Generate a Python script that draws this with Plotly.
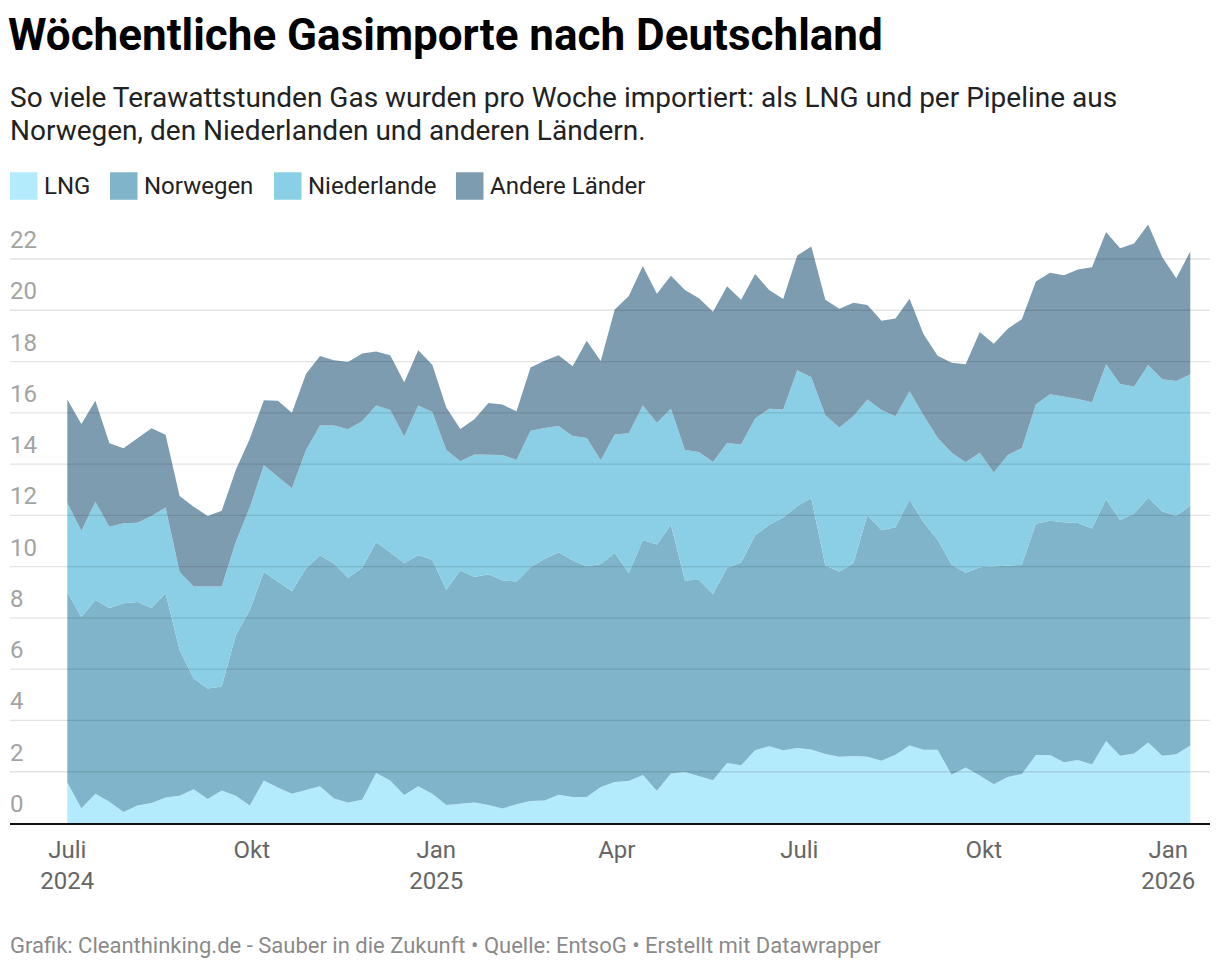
import pandas as pd
import plotly.graph_objects as go

# ---- data (TWh per week) ----
weeks = pd.date_range("2024-07-01", periods=81, freq="7D")

lng = [1.58, 0.58, 1.14, 0.83, 0.43, 0.68, 0.78, 0.99, 1.06, 1.32,
       0.94, 1.27, 1.06, 0.68, 1.66, 1.38, 1.14, 1.28, 1.43, 0.96,
       0.80, 0.91, 1.95, 1.66, 1.09, 1.43, 1.14, 0.70, 0.75, 0.80,
       0.70, 0.57, 0.73, 0.86, 0.88, 1.10, 1.01, 1.01, 1.40, 1.60,
       1.64, 1.87, 1.26, 1.93, 1.99, 1.82, 1.67, 2.34, 2.25, 2.84,
       2.99, 2.84, 2.93, 2.87, 2.69, 2.58, 2.61, 2.58, 2.43, 2.66,
       3.02, 2.86, 2.86, 1.88, 2.16, 1.85, 1.51, 1.79, 1.91, 2.65,
       2.65, 2.37, 2.46, 2.28, 3.20, 2.62, 2.71, 3.14, 2.62, 2.68,
       3.02]

norwegen = [7.43, 7.45, 7.56, 7.56, 8.14, 7.94, 7.61, 7.97, 5.69, 4.32,
            4.31, 4.05, 6.26, 7.63, 8.13, 8.05, 7.90, 8.65, 9.01, 9.16,
            8.77, 9.05, 9.00, 8.90, 9.05, 9.01, 9.13, 8.40, 9.11, 8.80,
            9.00, 8.90, 8.69, 9.13, 9.42, 9.46, 9.24, 9.00, 8.70, 8.93,
            8.11, 9.17, 9.60, 9.70, 7.47, 7.67, 7.26, 7.62, 7.91, 8.38,
            8.64, 9.08, 9.43, 9.81, 7.35, 7.23, 7.52, 9.43, 8.99, 8.88,
            9.59, 8.87, 8.19, 8.19, 7.60, 8.13, 8.50, 8.25, 8.16, 9.02,
            9.14, 9.36, 9.24, 9.21, 9.43, 9.20, 9.36, 9.55, 9.54, 9.30,
            9.36]

niederlande = [3.48, 3.37, 3.82, 3.17, 3.12, 3.09, 3.58, 3.35, 3.04, 3.58,
               3.97, 3.90, 3.64, 4.00, 4.16, 4.08, 4.02, 4.61, 5.06, 5.38,
               5.79, 5.71, 5.33, 5.55, 4.94, 5.84, 5.76, 5.45, 4.25, 4.77,
               4.67, 4.88, 4.74, 5.31, 5.11, 4.93, 4.85, 5.01, 4.05, 4.62,
               5.45, 5.24, 4.75, 4.53, 5.09, 4.98, 5.15, 4.86, 4.60, 4.56,
               4.53, 4.21, 5.30, 4.71, 5.86, 5.62, 5.74, 4.51, 4.69, 4.33,
               4.23, 4.16, 3.98, 4.37, 4.31, 4.46, 3.66, 4.31, 4.56, 4.65,
               4.93, 4.90, 4.84, 4.92, 5.26, 5.30, 4.96, 5.17, 5.15, 5.26,
               5.11]

andere = [4.03, 4.16, 3.95, 3.25, 2.93, 3.30, 3.43, 2.83, 2.96, 3.12,
          2.75, 2.96, 2.81, 2.68, 2.54, 2.96, 2.94, 2.97, 2.72, 2.55,
          2.62, 2.64, 2.11, 2.13, 2.11, 2.16, 1.84, 1.66, 1.26, 1.38,
          2.01, 1.97, 1.90, 2.47, 2.62, 2.75, 2.72, 3.79, 3.87, 4.88,
          5.36, 5.45, 5.03, 5.19, 6.24, 6.00, 5.86, 6.12, 5.65, 5.63,
          4.63, 4.31, 4.48, 5.10, 4.51, 4.63, 4.42, 3.68, 3.48, 3.81,
          3.61, 3.17, 3.20, 3.51, 3.82, 4.71, 5.02, 4.93, 5.02, 4.80,
          4.74, 4.74, 5.05, 5.27, 5.16, 5.30, 5.57, 5.48, 4.77, 4.01,
          4.80]

series_names = ["LNG", "Norwegen", "Niederlande", "Andere Länder"]
series_colors = ["#b3eafc", "#7fb4ca", "#8acfe6", "#7e9cb0"]

y_ticks = [0, 2, 4, 6, 8, 10, 12, 14, 16, 18, 20, 22]
x_tickvals = ["2024-07-01", "2024-10-01", "2025-01-01", "2025-04-01",
              "2025-07-01", "2025-10-01", "2026-01-01"]
x_ticktext = ["Juli<br>2024", "Okt", "Jan<br>2025", "Apr",
              "Juli", "Okt", "Jan<br>2026"]

# ---- figure geometry (pixels) ----
W, H = 1220, 970
ML, MR = 10, 10
plot_top, plot_bottom = 213, 823.3
plot_h = plot_bottom - plot_top
plot_w = W - ML - MR
FONT = "Roboto"


def py(pixel_y):
    return (plot_bottom - pixel_y) / plot_h


def px(pixel_x):
    return (pixel_x - ML) / plot_w


fig = go.Figure()
for name, vals, col in zip(series_names, [lng, norwegen, niederlande, andere], series_colors):
    fig.add_trace(go.Scatter(
        x=weeks, y=vals, name=name, mode="lines",
        stackgroup="one", line=dict(width=0, color=col),
        fillcolor=col, showlegend=False,
        hovertemplate="%{x|%d.%m.%Y}: %{y:.1f} TWh<extra>" + name + "</extra>",
    ))

# gridlines drawn above the areas (semi-transparent) and y labels sitting above them
for v in y_ticks:
    if v != 0:
        fig.add_shape(type="line", xref="paper", yref="y", x0=0, x1=1, y0=v, y1=v,
                      line=dict(color="rgba(0,0,0,0.11)", width=1.3), layer="above")
    fig.add_annotation(text=str(v), xref="paper", yref="y", x=px(8), y=v,
                       xanchor="left", yanchor="middle", yshift=19, showarrow=False,
                       font=dict(size=24, color="#a3a3a3", family=FONT))

# custom legend: square swatch + label
legend_x = [10, 110, 274, 456]
sw, legend_cy = 27.5, 186
for name, col, lx in zip(series_names, series_colors, legend_x):
    fig.add_shape(type="rect", xref="paper", yref="paper",
                  x0=px(lx), x1=px(lx + sw), y0=py(legend_cy + sw / 2), y1=py(legend_cy - sw / 2),
                  fillcolor=col, line=dict(width=0), layer="above")
    fig.add_annotation(text=name, xref="paper", yref="paper",
                       x=px(lx + sw + 4), y=py(legend_cy), xanchor="left", yanchor="middle",
                       showarrow=False, font=dict(size=24, color="#222", family=FONT))

fig.update_layout(
    width=W, height=H,
    margin=dict(l=ML, r=MR, t=plot_top, b=H - plot_bottom, pad=0, autoexpand=False),
    paper_bgcolor="white", plot_bgcolor="white",
    font=dict(family=FONT, color="#222"),
    showlegend=False,
    xaxis=dict(
        range=["2024-06-02 10:00", "2026-01-21 20:00"],
        tickvals=x_tickvals, ticktext=x_ticktext,
        tickfont=dict(size=24, color="#666", family=FONT),
        showgrid=False, zeroline=False, automargin=False,
        showline=True, linecolor="#111", linewidth=2,
        ticks="", layer="above traces", ticklabelstandoff=4,
    ),
    yaxis=dict(
        range=[0, plot_h / 25.65],
        showticklabels=False, ticks="", automargin=False,
        showgrid=False, zeroline=False, showline=False,
    ),
    hovermode="x unified",
)

fig.add_annotation(
    text="<b>Wöchentliche Gasimporte nach Deutschland</b>",
    xref="paper", yref="paper", x=px(6), y=py(35), xanchor="left", yanchor="middle",
    showarrow=False, font=dict(size=44, color="#000", family=FONT), align="left",
)
subtitle_lines = [
    "So viele Terawattstunden Gas wurden pro Woche importiert: als LNG und per Pipeline aus",
    "Norwegen, den Niederlanden und anderen Ländern.",
]
for line, cy in zip(subtitle_lines, [97, 130]):
    fig.add_annotation(
        text=line, xref="paper", yref="paper", x=px(8), y=py(cy),
        xanchor="left", yanchor="middle", showarrow=False,
        font=dict(size=28, color="#222", family=FONT), align="left",
    )
fig.add_annotation(
    text="Grafik: Cleanthinking.de - Sauber in die Zukunft • Quelle: EntsoG • Erstellt mit Datawrapper",
    xref="paper", yref="paper", x=px(8), y=py(946), xanchor="left", yanchor="middle",
    showarrow=False, font=dict(size=22, color="#8a8a8a", family=FONT), align="left",
)

fig.write_html("out.html", config={"displayModeBar": False},
               post_script="document.body.style.margin='0';")
